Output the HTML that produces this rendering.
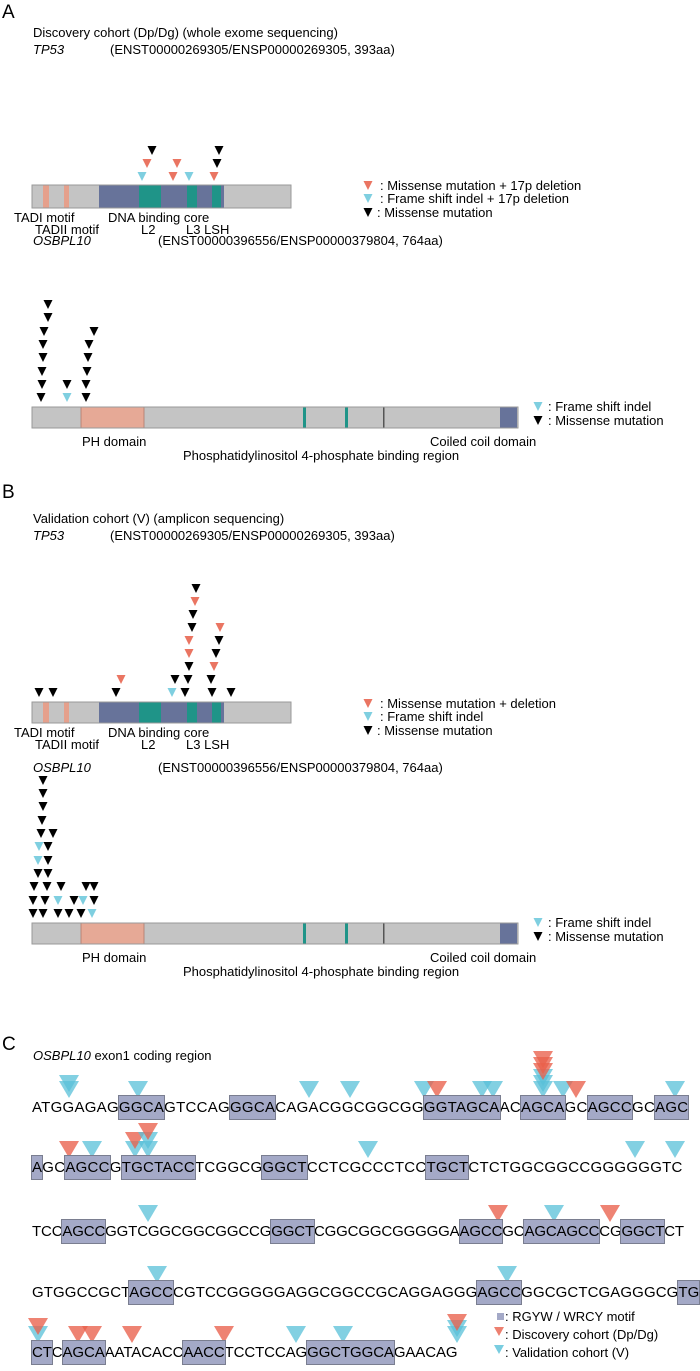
<!DOCTYPE html>
<html><head><meta charset="utf-8"><style>
html,body{margin:0;padding:0;background:#fff;width:700px;height:1371px;overflow:hidden;position:relative;font-family:"Liberation Sans",Arial,sans-serif;}
svg{position:absolute;left:0;top:0}
.seq{position:absolute;left:32px;font-size:15px;letter-spacing:0.27px;line-height:22px;white-space:nowrap;color:#000;}
.seq span{background:#a4a9c7;outline:1px solid #7a7e90;padding:3px 0 3px 0;}
</style></head><body>
<svg width="700" height="1371" viewBox="0 0 700 1371" xmlns="http://www.w3.org/2000/svg" font-family="Liberation Sans, Arial, sans-serif">
<defs>
<polygon id="tr" points="-4.5,0 4.5,0 0,9" fill="#ea7562"/>
<polygon id="tc" points="-4.5,0 4.5,0 0,9" fill="#7fcfe0"/>
<polygon id="tk" points="-4.5,0 4.5,0 0,9" fill="#000"/>
<polygon id="Cr" points="-10,0 10,0 0,17" fill="#e9604c" fill-opacity="0.78"/>
<polygon id="Cc" points="-10,0 10,0 0,17" fill="#58c0d8" fill-opacity="0.75"/>
</defs>
<g font-size="13">
<text x="2" y="18" font-size="19">A</text>
<text x="33" y="37">Discovery cohort (Dp/Dg) (whole exome sequencing)</text>
<text x="33" y="54" font-style="italic">TP53</text>
<text x="110" y="54">(ENST00000269305/ENSP00000269305, 393aa)</text>
</g>
<g>
<rect x="32" y="185" width="259" height="23" fill="#c4c4c4" stroke="#999" stroke-width="1"/>
<rect x="43" y="185" width="6" height="23" fill="#e5a08c"/>
<rect x="64" y="185" width="5" height="23" fill="#e5a08c"/>
<rect x="99" y="185" width="125" height="23" fill="#67739a"/>
<rect x="139" y="185" width="22" height="23" fill="#1f9488"/>
<rect x="187" y="185" width="10" height="23" fill="#1f9488"/>
<rect x="212" y="185" width="9" height="23" fill="#1f9488"/>
<rect x="32" y="185" width="259" height="23" fill="none" stroke="#999"/>
</g>
<g font-size="13">
<text x="14" y="222">TADI motif</text>
<text x="35" y="234">TADII motif</text>
<text x="108" y="222">DNA binding core</text>
<text x="141" y="234">L2</text>
<text x="186" y="234">L3 LSH</text>
</g>
<use href="#tc" x="142" y="172"/><use href="#tr" x="173" y="172"/><use href="#tc" x="189" y="172"/><use href="#tr" x="214" y="172"/>
<use href="#tr" x="147" y="159"/><use href="#tr" x="177" y="159"/><use href="#tk" x="217" y="159"/>
<use href="#tk" x="152" y="146"/><use href="#tk" x="219" y="146"/>
<g font-size="13">
<use href="#tr" x="368" y="181"/><text x="380" y="190">: Missense mutation + 17p deletion</text>
<use href="#tc" x="368" y="194"/><text x="380" y="203">: Frame shift indel + 17p deletion</text>
<use href="#tk" x="368" y="208"/><text x="377" y="217">: Missense mutation</text>
<text x="33" y="245" font-style="italic">OSBPL10</text>
<text x="158" y="245">(ENST00000396556/ENSP00000379804, 764aa)</text>
</g>
<g>
<rect x="32" y="407" width="486" height="21" fill="#c4c4c4"/>
<rect x="81" y="407" width="63" height="21" fill="#e6a996" stroke="#b07b6c" stroke-width="0.8"/>
<rect x="303" y="407" width="3" height="21" fill="#1f9488"/>
<rect x="345" y="407" width="3" height="21" fill="#1f9488"/>
<rect x="383" y="407" width="1.5" height="21" fill="#555"/>
<rect x="500" y="407" width="17" height="21" fill="#67739a"/>
<rect x="32" y="407" width="486" height="21" fill="none" stroke="#999"/>
</g>
<g font-size="13">
<text x="82" y="446">PH domain</text>
<text x="430" y="446">Coiled coil domain</text>
<text x="183" y="460">Phosphatidylinositol 4-phosphate binding region</text>
<use href="#tc" x="538" y="402"/><text x="548" y="411">: Frame shift indel</text>
<use href="#tk" x="538" y="416"/><text x="548" y="425">: Missense mutation</text>
</g>
<g>
<use href="#tk" x="41" y="393"/><use href="#tk" x="42" y="380"/><use href="#tk" x="42" y="367"/><use href="#tk" x="43" y="353"/><use href="#tk" x="43" y="340"/><use href="#tk" x="44" y="327"/><use href="#tk" x="48" y="313"/><use href="#tk" x="48" y="300"/>
<use href="#tc" x="67" y="393"/><use href="#tk" x="67" y="380"/>
<use href="#tk" x="86" y="393"/><use href="#tk" x="86" y="380"/><use href="#tk" x="87" y="367"/><use href="#tk" x="88" y="353"/><use href="#tk" x="89" y="340"/><use href="#tk" x="94" y="327"/>
</g>
<g font-size="13">
<text x="2" y="498" font-size="19">B</text>
<text x="33" y="523">Validation cohort (V) (amplicon sequencing)</text>
<text x="33" y="540" font-style="italic">TP53</text>
<text x="110" y="540">(ENST00000269305/ENSP00000269305, 393aa)</text>
</g>
<g>
<rect x="32" y="702" width="259" height="21" fill="#c4c4c4"/>
<rect x="43" y="702" width="6" height="21" fill="#e5a08c"/>
<rect x="64" y="702" width="5" height="21" fill="#e5a08c"/>
<rect x="99" y="702" width="125" height="21" fill="#67739a"/>
<rect x="139" y="702" width="22" height="21" fill="#1f9488"/>
<rect x="187" y="702" width="10" height="21" fill="#1f9488"/>
<rect x="212" y="702" width="9" height="21" fill="#1f9488"/>
<rect x="32" y="702" width="259" height="21" fill="none" stroke="#999"/>
</g>
<g font-size="13">
<text x="14" y="737">TADI motif</text>
<text x="35" y="749">TADII motif</text>
<text x="108" y="737">DNA binding core</text>
<text x="141" y="749">L2</text>
<text x="186" y="749">L3 LSH</text>
</g>
<g>
<use href="#tk" x="39" y="688"/><use href="#tk" x="53" y="688"/><use href="#tk" x="116" y="688"/><use href="#tc" x="172" y="688"/><use href="#tk" x="185" y="688"/><use href="#tk" x="212" y="688"/><use href="#tk" x="231" y="688"/>
<use href="#tr" x="121" y="675"/><use href="#tk" x="175" y="675"/><use href="#tk" x="188" y="675"/><use href="#tk" x="211" y="675"/>
<use href="#tk" x="189" y="662"/><use href="#tr" x="214" y="662"/>
<use href="#tr" x="189" y="649"/><use href="#tk" x="216" y="649"/>
<use href="#tr" x="189" y="636"/><use href="#tk" x="219" y="636"/>
<use href="#tk" x="192" y="623"/><use href="#tr" x="220" y="623"/>
<use href="#tk" x="193" y="610"/>
<use href="#tr" x="195" y="597"/>
<use href="#tk" x="196" y="584"/>
</g>
<g font-size="13">
<use href="#tr" x="368" y="699"/><text x="380" y="708">: Missense mutation + deletion</text>
<use href="#tc" x="368" y="712"/><text x="380" y="721">: Frame shift indel</text>
<use href="#tk" x="368" y="726"/><text x="377" y="735">: Missense mutation</text>
<text x="33" y="772" font-style="italic">OSBPL10</text>
<text x="158" y="772">(ENST00000396556/ENSP00000379804, 764aa)</text>
</g>
<g>
<rect x="32" y="923" width="486" height="21" fill="#c4c4c4"/>
<rect x="81" y="923" width="63" height="21" fill="#e6a996" stroke="#b07b6c" stroke-width="0.8"/>
<rect x="303" y="923" width="3" height="21" fill="#1f9488"/>
<rect x="345" y="923" width="3" height="21" fill="#1f9488"/>
<rect x="383" y="923" width="1.5" height="21" fill="#555"/>
<rect x="500" y="923" width="17" height="21" fill="#67739a"/>
<rect x="32" y="923" width="486" height="21" fill="none" stroke="#999"/>
</g>
<g>
<use href="#tk" x="33" y="909"/><use href="#tk" x="43" y="909"/><use href="#tk" x="58" y="909"/><use href="#tk" x="69" y="909"/><use href="#tk" x="81" y="909"/><use href="#tc" x="92" y="909"/>
<use href="#tk" x="33" y="896"/><use href="#tk" x="45" y="896"/><use href="#tc" x="58" y="896"/><use href="#tk" x="74" y="896"/><use href="#tc" x="83" y="896"/><use href="#tk" x="94" y="896"/>
<use href="#tk" x="34" y="882"/><use href="#tk" x="47" y="882"/><use href="#tk" x="61" y="882"/><use href="#tk" x="86" y="882"/><use href="#tk" x="94" y="882"/>
<use href="#tk" x="38" y="869"/><use href="#tk" x="48" y="869"/>
<use href="#tc" x="38" y="856"/><use href="#tk" x="48" y="856"/>
<use href="#tc" x="39" y="842"/><use href="#tk" x="48" y="842"/>
<use href="#tk" x="41" y="829"/><use href="#tk" x="53" y="829"/>
<use href="#tk" x="42" y="816"/><use href="#tk" x="43" y="802"/><use href="#tk" x="43" y="789"/><use href="#tk" x="43" y="776"/>
</g>
<g font-size="13">
<text x="82" y="962">PH domain</text>
<text x="430" y="962">Coiled coil domain</text>
<text x="183" y="976">Phosphatidylinositol 4-phosphate binding region</text>
<use href="#tc" x="538" y="918"/><text x="548" y="927">: Frame shift indel</text>
<use href="#tk" x="538" y="932"/><text x="548" y="941">: Missense mutation</text>
</g>
<g font-size="13">
<text x="2" y="1050" font-size="19">C</text>
<text x="33" y="1060"><tspan font-style="italic">OSBPL10</tspan> exon1 coding region</text>
</g>
<g>
<use href="#Cc" x="69" y="1075"/><use href="#Cc" x="69" y="1081"/>
<use href="#Cc" x="138" y="1081"/><use href="#Cc" x="309" y="1081"/><use href="#Cc" x="350" y="1081"/>
<use href="#Cc" x="424" y="1081"/><use href="#Cr" x="437" y="1081"/>
<use href="#Cc" x="482" y="1081"/><use href="#Cc" x="493" y="1081"/>
<use href="#Cc" x="543" y="1081"/><use href="#Cc" x="543" y="1075"/><use href="#Cc" x="543" y="1069"/>
<use href="#Cr" x="543" y="1063"/><use href="#Cr" x="543" y="1057"/><use href="#Cr" x="543" y="1051"/>
<use href="#Cc" x="563" y="1081"/><use href="#Cr" x="576" y="1081"/>
<use href="#Cc" x="675" y="1081"/>
</g>
<g>
<use href="#Cr" x="69" y="1141"/><use href="#Cc" x="92" y="1141"/>
<use href="#Cc" x="135" y="1141"/><use href="#Cr" x="135" y="1132"/>
<use href="#Cc" x="148" y="1141"/><use href="#Cc" x="148" y="1132"/><use href="#Cr" x="148" y="1123"/>
<use href="#Cc" x="368" y="1141"/><use href="#Cc" x="635" y="1141"/><use href="#Cc" x="675" y="1141"/>
</g>
<g>
<use href="#Cc" x="148" y="1205"/><use href="#Cr" x="498" y="1205"/><use href="#Cc" x="554" y="1205"/><use href="#Cr" x="610" y="1205"/>
</g>
<g>
<use href="#Cc" x="157" y="1266"/><use href="#Cc" x="507" y="1266"/>
</g>
<g>
<use href="#Cc" x="38" y="1326"/><use href="#Cr" x="38" y="1318"/>
<use href="#Cr" x="78" y="1326"/><use href="#Cr" x="92" y="1326"/><use href="#Cr" x="132" y="1326"/><use href="#Cr" x="224" y="1326"/>
<use href="#Cc" x="296" y="1326"/><use href="#Cc" x="343" y="1326"/>
<use href="#Cc" x="457" y="1326"/><use href="#Cc" x="457" y="1320"/><use href="#Cr" x="457" y="1314"/>
</g>
<g font-size="13">
<rect x="497" y="1313" width="7" height="7" fill="#a4a9c7"/><text x="505" y="1321">: RGYW / WRCY motif</text>
<polygon points="494,1327 504,1327 499,1336" fill="#e9604c" fill-opacity="0.8"/><text x="505" y="1339">: Discovery cohort (Dp/Dg)</text>
<polygon points="494,1345 504,1345 499,1354" fill="#58c0d8" fill-opacity="0.8"/><text x="505" y="1357">: Validation cohort (V)</text>
</g>
</svg>
<div class="seq" style="top:1097px">ATGGAGAG<span>GGCA</span>GTCCAG<span>GGCA</span>CAGACGGCGGCGG<span>GGTAGCA</span>AC<span>AGCA</span>GC<span>AGCC</span>GC<span>AGC</span></div>
<div class="seq" style="top:1157px"><span>A</span>GC<span>AGCC</span>G<span>TGCTACC</span>TCGGCG<span>GGCT</span>CCTCGCCCTCC<span>TGCT</span>CTCTGGCGGCCGGGGGGTC</div>
<div class="seq" style="top:1221px;letter-spacing:-0.15px">TCC<span>AGCC</span>GGTCGGCGGCGGCCG<span>GGCT</span>CGGCGGCGGGGGA<span>AGCC</span>GC<span>AGCAGCC</span>CG<span>GGCT</span>CT</div>
<div class="seq" style="top:1282px;letter-spacing:0.1px">GTGGCCGCT<span>AGCC</span>CGTCCGGGGGAGGCGGCCGCAGGAGGG<span>AGCC</span>GGCGCTCGAGGGCG<span>TG</span></div>
<div class="seq" style="top:1342px;letter-spacing:-0.1px"><span>CT</span>C<span>AGCA</span>AATACACC<span>AACC</span>TCCTCCAG<span>GGCTGGCA</span>GAACAG</div>
</body></html>
